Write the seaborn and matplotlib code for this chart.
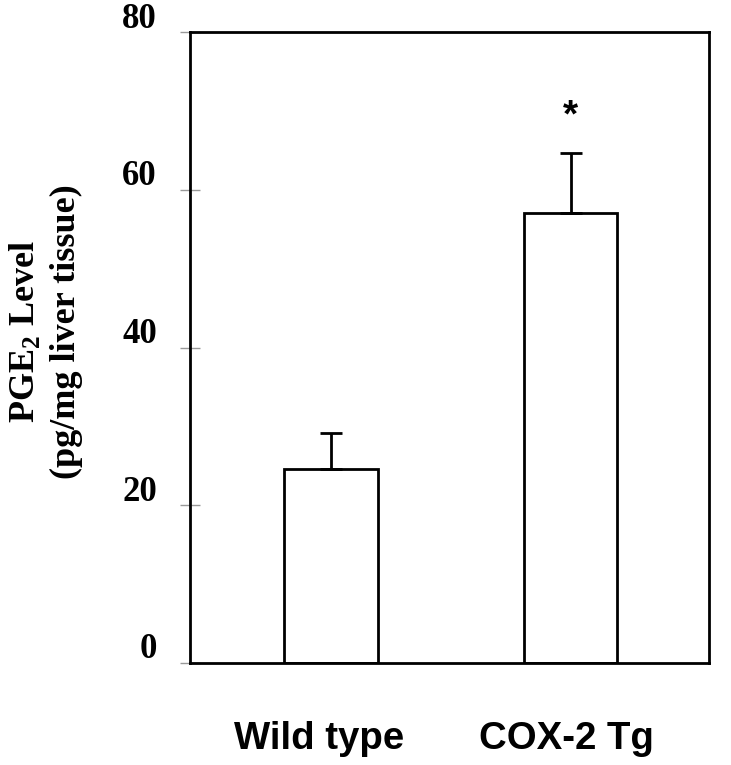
import matplotlib
matplotlib.use("Agg")
import matplotlib.pyplot as plt
import matplotlib.transforms as mtransforms
import seaborn as sns
import numpy as np

groups = ["Wild type", "COX-2 Tg"]
means = [24.6, 57.0]
errs = [4.6, 7.6]
y_ticks = [0, 20, 40, 60, 80]

sns.set_style("white")
plt.rcParams["font.family"] = ["Liberation Serif", "DejaVu Serif"]
plt.rcParams["text.color"] = "black"
plt.rcParams["axes.labelcolor"] = "black"
plt.rcParams["mathtext.fontset"] = "custom"
plt.rcParams["mathtext.rm"] = "Liberation Serif:bold"
plt.rcParams["mathtext.bf"] = "Liberation Serif:bold"

fig = plt.figure(figsize=(7.31, 7.65), dpi=100)
ax = fig.add_axes([190 / 731, 1 - 663 / 765, 519 / 731, 631 / 765])

sns.barplot(x=groups, y=means, color="white", edgecolor="black",
            linewidth=2.0, width=0.39, errorbar=None, ax=ax, saturation=1)
# upper-only error bars
ax.errorbar(np.arange(len(groups)), means, yerr=[np.zeros(len(errs)), errs],
            fmt="none", ecolor="black", elinewidth=2.0, capsize=8, capthick=2.0,
            zorder=1)

ax.set_ylim(0, 80)
ax.set_xlim(-0.589, 1.578)
ax.set_yticks(y_ticks)
ax.set_yticklabels([str(t) for t in y_ticks], fontsize=25, fontweight="bold")
ax.tick_params(axis="y", direction="inout", length=14.4, width=1.0,
               color="#999999", labelcolor="black", pad=16.6, left=True)
ax.tick_params(axis="x", length=0, pad=42, labelcolor="black")
ax.set_xticks(range(len(groups)))
ax.set_xticklabels(groups, fontsize=27.6, fontweight="bold",
                   family=["Liberation Sans", "DejaVu Sans"])

# raise y tick labels above their ticks as in the reference
shift_up = mtransforms.ScaledTranslation(0, 17 / 100, fig.dpi_scale_trans)
for lab in ax.get_yticklabels():
    lab.set_transform(lab.get_transform() + shift_up)
xlabs = ax.get_xticklabels()
xlabs[0].set_transform(xlabs[0].get_transform() +
                       mtransforms.ScaledTranslation(-12 / 100, 0, fig.dpi_scale_trans))
xlabs[1].set_transform(xlabs[1].get_transform() +
                       mtransforms.ScaledTranslation(-4 / 100, 0, fig.dpi_scale_trans))

for side in ["left", "right", "top", "bottom"]:
    ax.spines[side].set_visible(True)
    ax.spines[side].set_linewidth(2.0)
    ax.spines[side].set_color("black")

ax.set_xlabel("")
ax.set_ylabel("PGE$_{\\mathbf{2}}$ Level\n(pg/mg liver tissue)",
              fontsize=26, fontweight="bold", linespacing=1.3)
ax.yaxis.set_label_coords(-0.207, 0.525)

ax.text(1, 67.0, "*", ha="center", va="bottom", fontsize=28, fontweight="bold",
        family=["Liberation Sans", "DejaVu Sans"])

fig.savefig("out.png", dpi=100)
